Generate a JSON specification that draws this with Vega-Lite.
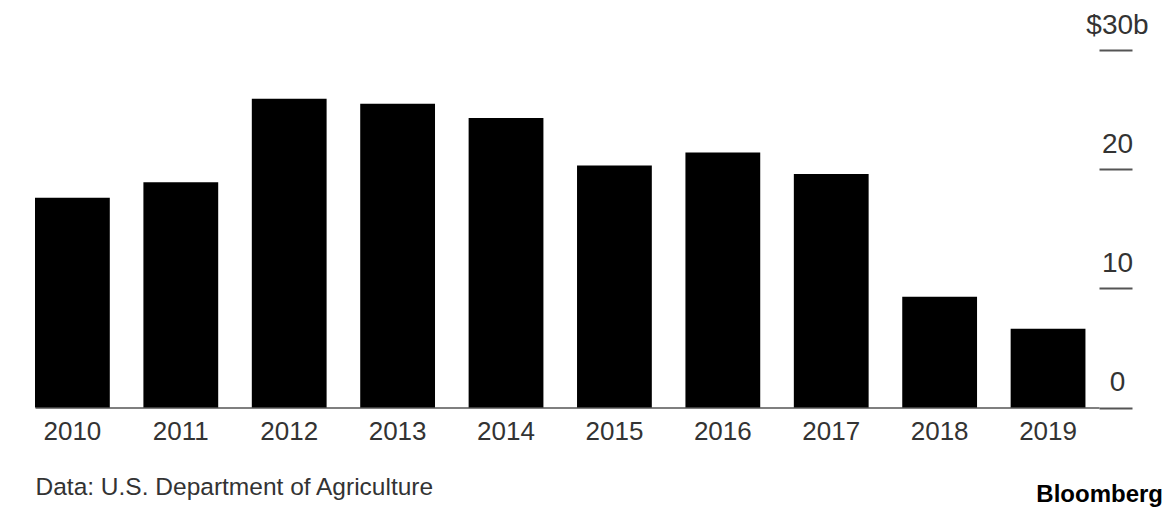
{
  "$schema": "https://vega.github.io/schema/vega-lite/v6.json",
  "width": 1064,
  "height": 357.5,
  "autosize": {"type": "none"},
  "padding": {"left": 35, "top": 50, "right": 77, "bottom": 110.5},
  "background": "white",
  "config": {
    "view": {"stroke": null},
    "font": "Liberation Sans"
  },
  "title": {
    "text": "Bloomberg",
    "orient": "bottom",
    "anchor": "end",
    "frame": "group",
    "fontSize": 24,
    "fontWeight": "bold",
    "color": "#000000",
    "dx": 64,
    "dy": -20,
    "font": "Liberation Sans"
  },
  "data": {
    "values": [
      {"year": "2010", "value": 17.6},
      {"year": "2011", "value": 18.9},
      {"year": "2012", "value": 25.9},
      {"year": "2013", "value": 25.5},
      {"year": "2014", "value": 24.3},
      {"year": "2015", "value": 20.3},
      {"year": "2016", "value": 21.4},
      {"year": "2017", "value": 19.6},
      {"year": "2018", "value": 9.3},
      {"year": "2019", "value": 6.6}
    ]
  },
  "mark": {"type": "bar", "color": "#000000"},
  "encoding": {
    "x": {
      "field": "year",
      "type": "ordinal",
      "sort": null,
      "scale": {"paddingInner": 0.31, "paddingOuter": 0.0625, "align": 0},
      "axis": {
        "title": "Data: U.S. Department of Agriculture",
        "titleAnchor": "start",
        "titleAlign": "left",
        "titleFontWeight": "normal",
        "titleFontSize": 24.5,
        "titleColor": "#333333",
        "titlePadding": 31,
        "labelAngle": 0,
        "labelFontSize": 26,
        "labelColor": "#333333",
        "labelPadding": 11,
        "ticks": false,
        "domain": true,
        "domainColor": "#555555",
        "domainWidth": 1.5
      }
    },
    "y": {
      "field": "value",
      "type": "quantitative",
      "scale": {"domain": [0, 30], "nice": false},
      "axis": {
        "orient": "right",
        "title": null,
        "domain": false,
        "grid": false,
        "values": [0, 10, 20, 30],
        "labelExpr": "datum.value == 30 ? '$30b' : datum.label",
        "ticks": true,
        "tickSize": 33,
        "tickColor": "#555555",
        "tickWidth": 2,
        "labelAlign": "center",
        "labelBaseline": "middle",
        "labelPadding": -15,
        "labelOffset": -25,
        "labelFontSize": 28,
        "labelColor": "#333333"
      }
    }
  }
}
